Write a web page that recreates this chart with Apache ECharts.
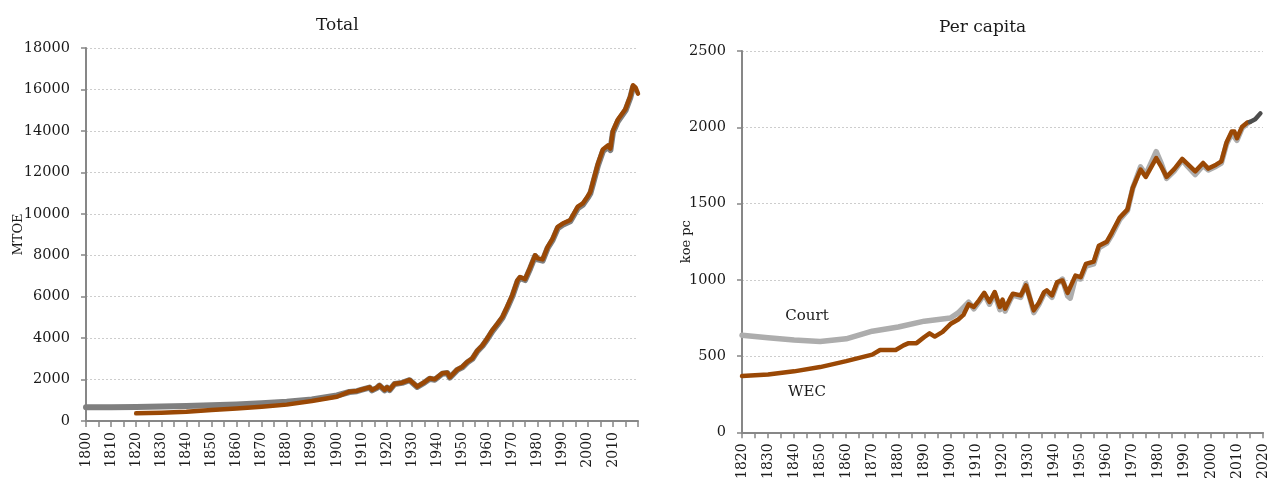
<!DOCTYPE html>
<html>
<head>
<meta charset="utf-8">
<script src="https://cdn.jsdelivr.net/npm/echarts@6/dist/echarts.min.js"></script>
<style>
    html, body { margin: 0; padding: 0; background: #fff; }
    #chart { width: 1271px; height: 482px; }
</style>
</head>
<body>
<div id="chart"></div>
<script>
// Total energy (MTOE), [year, value]
const totalCourt = [
    [1800, 660], [1810, 665], [1820, 675], [1830, 695], [1840, 720], [1850, 760], [1860, 800],
    [1870, 860], [1880, 935], [1890, 1040], [1900, 1230], [1905, 1400], [1908, 1440], [1910, 1510],
    [1913, 1610], [1914, 1480], [1916, 1600], [1917, 1710], [1919, 1480], [1920, 1610], [1921, 1490],
    [1923, 1790], [1926, 1840], [1929, 1970], [1932, 1640], [1935, 1860], [1937, 2040], [1939, 1990],
    [1942, 2280], [1944, 2320], [1945, 2090], [1948, 2470], [1950, 2590], [1952, 2830], [1954, 3000],
    [1956, 3370], [1958, 3620], [1960, 3960], [1962, 4340], [1964, 4650], [1966, 4980], [1968, 5490],
    [1970, 6040], [1972, 6740], [1973, 6900], [1975, 6800], [1977, 7350], [1979, 7960], [1980, 7800],
    [1982, 7740], [1984, 8350], [1986, 8740], [1988, 9300], [1990, 9470], [1993, 9640], [1996, 10270],
    [1998, 10430], [2000, 10780], [2001, 10980], [2002, 11420], [2004, 12320], [2006, 13020],
    [2008, 13220], [2009, 13080], [2010, 13920], [2012, 14470], [2015, 14980], [2017, 15630], [2018, 16100]
];
const totalWEC = [
    [1820, 370], [1830, 400], [1840, 450], [1850, 530], [1860, 600], [1870, 690], [1880, 790],
    [1890, 965], [1900, 1170], [1905, 1415], [1908, 1450], [1910, 1520], [1913, 1625], [1914, 1495],
    [1916, 1620], [1917, 1720], [1919, 1500], [1920, 1625], [1921, 1510], [1923, 1800], [1926, 1850],
    [1929, 1980], [1932, 1660], [1935, 1880], [1937, 2060], [1939, 2010], [1942, 2300], [1944, 2330],
    [1945, 2110], [1948, 2490], [1950, 2620], [1952, 2860], [1954, 3025], [1956, 3400], [1958, 3650],
    [1960, 4000], [1962, 4390], [1964, 4700], [1966, 5030], [1968, 5550], [1970, 6100], [1972, 6800],
    [1973, 6950], [1975, 6850], [1977, 7400], [1979, 8000], [1980, 7850], [1982, 7800], [1984, 8400],
    [1986, 8800], [1988, 9370], [1990, 9530], [1993, 9700], [1996, 10340], [1998, 10500], [2000, 10850],
    [2001, 11050], [2002, 11500], [2004, 12400], [2006, 13100], [2008, 13300], [2009, 13150],
    [2010, 14000], [2012, 14550], [2015, 15050], [2017, 15700], [2018, 16200], [2019, 16100], [2020, 15800]
];

// Per capita (koe pc), [year, value]
const pcCourt = [
    [1820, 637], [1830, 620], [1840, 605], [1850, 595], [1860, 613], [1870, 663], [1880, 691],
    [1890, 729], [1900, 750], [1903, 783], [1907, 853], [1909, 810], [1911, 855], [1913, 905],
    [1915, 840], [1917, 910], [1919, 805], [1920, 860], [1921, 795], [1923, 870], [1924, 900],
    [1927, 885], [1929, 975], [1932, 785], [1934, 840], [1936, 910], [1937, 920], [1939, 885],
    [1941, 975], [1943, 1005], [1945, 895], [1946, 880], [1948, 1015], [1950, 1005], [1952, 1090],
    [1955, 1105], [1957, 1210], [1960, 1240], [1962, 1295], [1965, 1395], [1968, 1455], [1970, 1600],
    [1973, 1740], [1975, 1690], [1979, 1840], [1981, 1760], [1983, 1665], [1986, 1715], [1989, 1785],
    [1991, 1745], [1994, 1690], [1997, 1750], [1999, 1720], [2002, 1745], [2004, 1765], [2006, 1890],
    [2008, 1960], [2010, 1915], [2012, 1995], [2014, 2025]
];
const pcWEC = [
    [1820, 369], [1830, 380], [1840, 400], [1850, 428], [1860, 467], [1870, 510], [1873, 540],
    [1879, 540], [1882, 570], [1884, 585], [1887, 585], [1890, 625], [1892, 649], [1894, 628],
    [1897, 659], [1900, 710], [1903, 740], [1905, 770], [1907, 840], [1909, 822], [1911, 866],
    [1913, 915], [1915, 855], [1917, 920], [1919, 822], [1920, 870], [1921, 811], [1923, 880],
    [1924, 909], [1927, 898], [1929, 963], [1932, 800], [1934, 850], [1936, 920], [1937, 931],
    [1939, 898], [1941, 985], [1943, 996], [1945, 914], [1948, 1028], [1950, 1017], [1952, 1104],
    [1955, 1119], [1957, 1223], [1960, 1249], [1962, 1310], [1965, 1408], [1968, 1462], [1970, 1603],
    [1973, 1722], [1975, 1675], [1979, 1798], [1981, 1740], [1983, 1675], [1986, 1727], [1989, 1792],
    [1991, 1760], [1994, 1711], [1997, 1766], [1999, 1729], [2002, 1755], [2004, 1776], [2006, 1900],
    [2008, 1972], [2009, 1972], [2010, 1928], [2012, 2004], [2014, 2032], [2015, 2035]
];
const pcRecent = [[2015, 2035], [2017, 2052], [2019, 2091]];

const font = 'DejaVu Serif';
const textColor = '#1a1a1a';
const axisColor = '#878787';

function xAxisCfg(gridIndex, min, showMax) {
    return {
        type: 'value',
        gridIndex: gridIndex,
        min: min,
        max: 2020,
        interval: 10,
        axisLine: {lineStyle: {color: axisColor, width: 2}},
        axisTick: {show: true, inside: false, length: 6, lineStyle: {color: axisColor, width: 1.5}},
        minorTick: {show: true, splitNumber: 2, length: 6, lineStyle: {color: axisColor, width: 1.5}},
        splitLine: {show: false},
        axisLabel: {
            rotate: 90,
            margin: 11,
            fontFamily: font,
            fontSize: 14,
            color: textColor,
            showMinLabel: true,
            showMaxLabel: showMax,
            formatter: v => String(v)
        }
    };
}

function yAxisCfg(gridIndex, max, interval, name, gap) {
    return {
        type: 'value',
        gridIndex: gridIndex,
        min: 0,
        max: max,
        interval: interval,
        name: name,
        nameLocation: 'middle',
        nameRotate: 90,
        nameGap: gap,
        nameMoveOverlap: false,
        nameTextStyle: {fontFamily: font, fontSize: 13, color: textColor},
        axisLine: {show: true, lineStyle: {color: axisColor, width: 2}},
        axisTick: {show: true, length: 5, lineStyle: {color: axisColor, width: 1.5}},
        splitLine: {lineStyle: {color: '#cdcdcd', width: 1, type: [2, 2]}},
        axisLabel: {margin: 16, fontFamily: font, fontSize: 14.5, color: textColor, formatter: v => String(v)}
    };
}

function lineCfg(name, data, xi, color, width, z) {
    return {
        name: name,
        type: 'line',
        xAxisIndex: xi,
        yAxisIndex: xi,
        data: data,
        symbol: 'none',
        smooth: false,
        z: z,
        animation: false,
        lineStyle: {color: color, width: width, cap: 'round', join: 'round'}
    };
}

const chart = echarts.init(document.getElementById('chart'));
chart.setOption({
    backgroundColor: '#fff',
    title: [
        {text: 'Total', left: 311, top: 12, textStyle: {fontFamily: font, fontSize: 17, fontWeight: 'normal', color: textColor}},
        {text: 'Per capita', left: 934, top: 14, textStyle: {fontFamily: font, fontSize: 17, fontWeight: 'normal', color: textColor}}
    ],
    grid: [
        {left: 86, right: 633, top: 48, bottom: 61},
        {left: 742, right: 8, top: 51, bottom: 49}
    ],
    xAxis: [xAxisCfg(0, 1800, false), xAxisCfg(1, 1820, true)],
    yAxis: [yAxisCfg(0, 18000, 2000, 'MTOE', 61), yAxisCfg(1, 2500, 500, 'koe pc', 49)],
    graphic: [
        {type: 'text', x: 807, y: 316, style: {text: 'Court', textAlign: 'center', textVerticalAlign: 'middle', font: '15px "DejaVu Serif"', fill: textColor}},
        {type: 'text', x: 807, y: 392, style: {text: 'WEC', textAlign: 'center', textVerticalAlign: 'middle', font: '15px "DejaVu Serif"', fill: textColor}}
    ],
    series: [
        lineCfg('Court', totalCourt, 0, '#7f7f7f', 6, 2),
        lineCfg('WEC', totalWEC, 0, '#9a4805', 4.5, 3),
        lineCfg('Court', pcCourt, 1, '#adadad', 5.5, 2),
        lineCfg('WEC', pcWEC, 1, '#9a4805', 4.5, 3),
        lineCfg('Recent', pcRecent, 1, '#4d4d4d', 4.5, 3)
    ]
});
</script>
</body>
</html>
